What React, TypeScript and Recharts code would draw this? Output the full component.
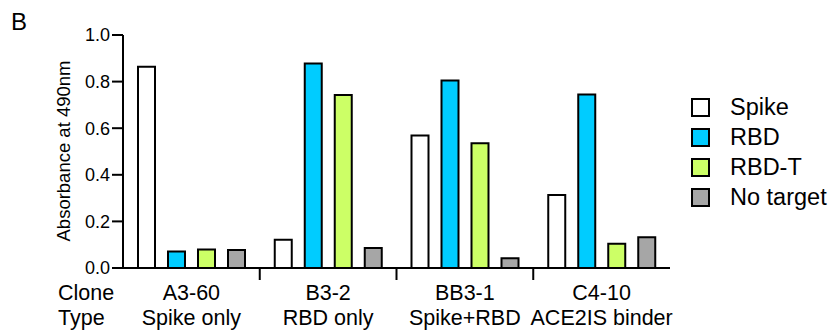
import React from 'react';
import { BarChart, Bar, XAxis, YAxis, Legend } from 'recharts';

const clones = ['A3-60', 'B3-2', 'BB3-1', 'C4-10'];
const cloneTypes = ['Spike only', 'RBD only', 'Spike+RBD', 'ACE2IS binder'];
const spike = [0.864, 0.121, 0.569, 0.313];
const rbd = [0.071, 0.878, 0.805, 0.745];
const rbdT = [0.079, 0.742, 0.535, 0.104];
const noTarget = [0.077, 0.086, 0.042, 0.132];
const yTicks = [0, 0.2, 0.4, 0.6, 0.8, 1.0];

const data = clones.map((c, i) => ({
  clone: c,
  type: cloneTypes[i],
  Spike: spike[i],
  RBD: rbd[i],
  'RBD-T': rbdT[i],
  'No target': noTarget[i],
}));

const series = [
  { key: 'Spike', fill: '#FFFFFF' },
  { key: 'RBD', fill: '#00CCFF' },
  { key: 'RBD-T', fill: '#CCFF66' },
  { key: 'No target', fill: '#A6A6A6' },
];

const W = 834;
const H = 332;
const PLOT_LEFT = 123;
const PLOT_RIGHT = 670;
const PLOT_TOP = 35;
const PLOT_BOTTOM = 268;
const Y_AXIS_W = 60;
const X_AXIS_H = H - PLOT_BOTTOM;
const BAND = (PLOT_RIGHT - PLOT_LEFT) / clones.length;
const FONT = '"Liberation Sans", Arial, Helvetica, sans-serif';
const LABEL_SIZE = 21.5;

const XTick = (props: any) => {
  const { x, y, payload } = props;
  const idx = clones.indexOf(payload.value);
  const half = BAND / 2;
  return (
    <g>
      {idx > 0 && (
        <line x1={x - half} x2={x - half} y1={y} y2={y + 12} stroke="#000" strokeWidth={2} />
      )}
      <text x={x} y={y + 32} textAnchor="middle" fontSize={LABEL_SIZE} fontFamily={FONT} fill="#000">
        {payload.value}
      </text>
      <text x={x} y={y + 57} textAnchor="middle" fontSize={LABEL_SIZE} fontFamily={FONT} fill="#000">
        {cloneTypes[idx]}
      </text>
    </g>
  );
};

const LegendContent = () => {
  return (
    <div style={{ fontFamily: FONT }}>
      {series.map((s) => (
        <div key={s.key} style={{ display: 'flex', alignItems: 'center', height: 30 }}>
          <div
            style={{
              width: 15,
              height: 15,
              border: '2.5px solid #000',
              background: s.fill,
              marginRight: 20,
            }}
          />
          <span style={{ fontSize: 23.5, color: '#000', lineHeight: '30px' }}>{s.key}</span>
        </div>
      ))}
    </div>
  );
};

export default function App() {
  return (
    <div style={{ position: 'absolute', left: 0, top: 0, width: W, height: H, background: '#fff' }}>
      <BarChart
        width={W}
        height={H}
        data={data}
        margin={{ top: PLOT_TOP, bottom: 0, left: PLOT_LEFT - Y_AXIS_W, right: W - PLOT_RIGHT }}
        barSize={17}
        barGap={13}
      >
        <XAxis
          dataKey="clone"
          tick={<XTick />}
          tickLine={false}
          tickSize={0}
          tickMargin={0}
          axisLine={{ stroke: '#000', strokeWidth: 2 }}
          interval={0}
          height={X_AXIS_H}
        />
        <YAxis
          width={Y_AXIS_W}
          domain={[0, 1]}
          ticks={yTicks}
          tickFormatter={(v: number) => v.toFixed(1)}
          axisLine={{ stroke: '#000', strokeWidth: 2 }}
          tickLine={{ stroke: '#000', strokeWidth: 2 }}
          tickSize={11}
          tickMargin={2}
          tick={{ fill: '#000', fontSize: 18, fontFamily: FONT }}
          allowDataOverflow
        />
        <Legend
          layout="vertical"
          align="center"
          verticalAlign="middle"
          content={<LegendContent />}
          wrapperStyle={{ position: 'absolute', left: 691, top: 92, width: 143, height: 125 }}
        />
        {series.map((s) => (
          <Bar
            key={s.key}
            dataKey={s.key}
            name={s.key}
            fill={s.fill}
            stroke="#000"
            strokeWidth={2}
            isAnimationActive={false}
          />
        ))}
      </BarChart>
      <svg
        width={W}
        height={H}
        style={{ position: 'absolute', left: 0, top: 0, pointerEvents: 'none' }}
      >
        <text x={11} y={30} fontSize={24} fontFamily={FONT} fill="#000">
          B
        </text>
        <text
          x={63}
          y={151}
          fontSize={18.5}
          fontFamily={FONT}
          fill="#000"
          textAnchor="middle"
          dominantBaseline="central"
          transform="rotate(-90 63 151)"
        >
          Absorbance at 490nm
        </text>
        <text x={58} y={300} fontSize={LABEL_SIZE} fontFamily={FONT} fill="#000">
          Clone
        </text>
        <text x={58} y={325} fontSize={LABEL_SIZE} fontFamily={FONT} fill="#000">
          Type
        </text>
      </svg>
    </div>
  );
}
